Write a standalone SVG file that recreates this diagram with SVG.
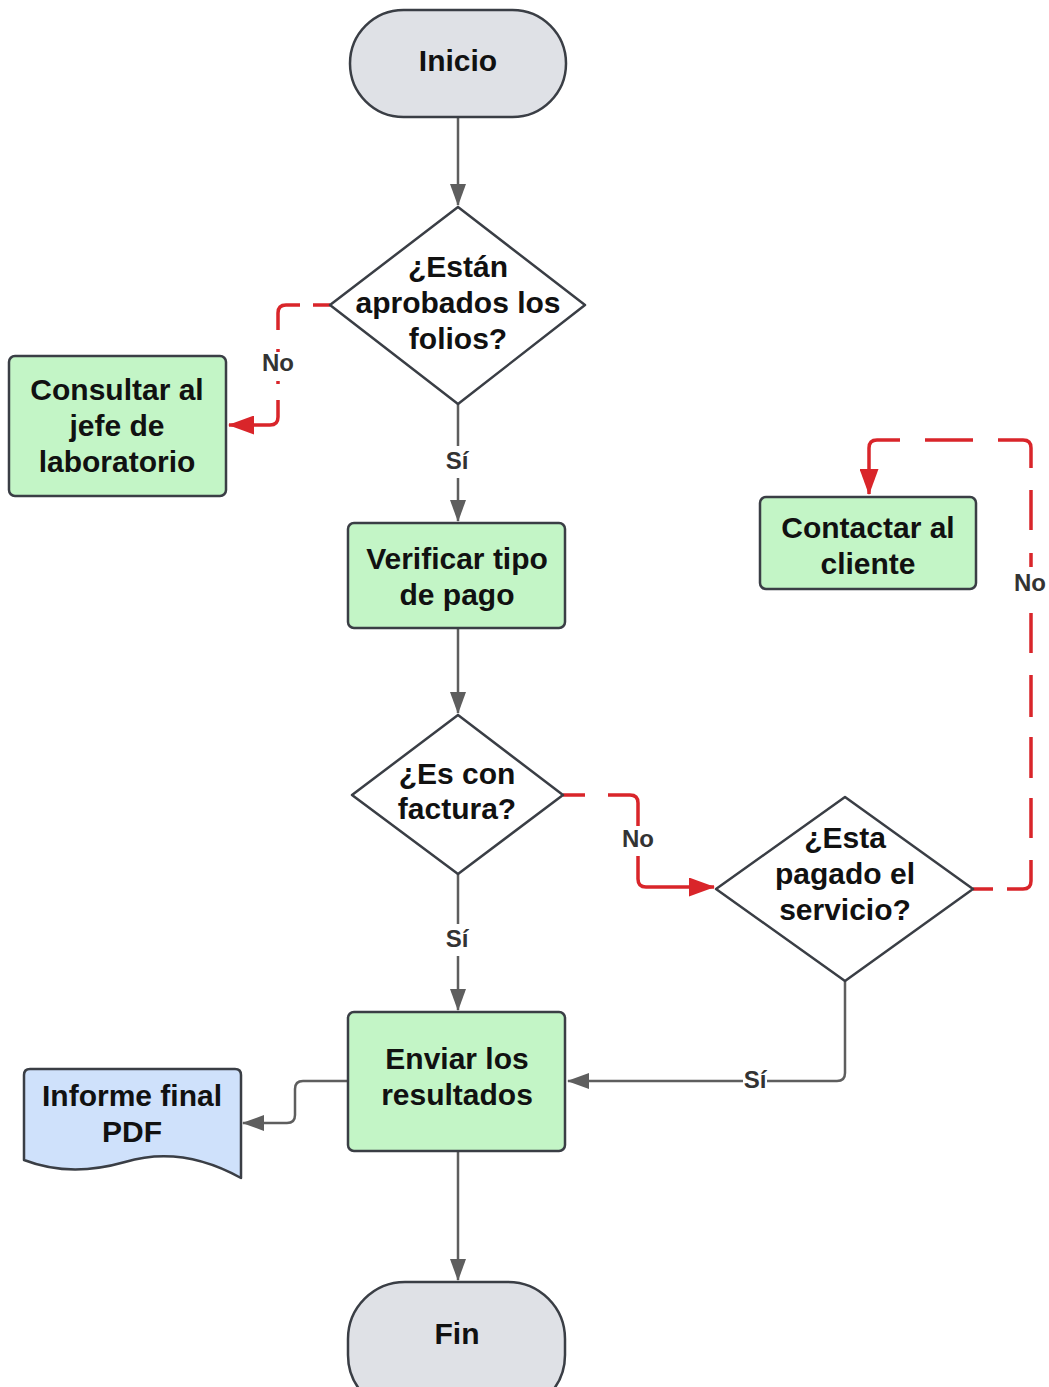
<svg xmlns="http://www.w3.org/2000/svg" width="1049" height="1387" viewBox="0 0 1049 1387">
  <style>
    .node { stroke: #3a3e45; stroke-width: 2.5; }
    .term { fill: #dfe1e6; }
    .proc { fill: #c3f5c6; }
    .doc { fill: #cfe1fb; }
    .dec { fill: #ffffff; }
    .lbl { font-family: "Liberation Sans", Arial, sans-serif; font-weight: bold; font-size: 30px; fill: #111; text-anchor: middle; }
    .edge { fill: none; stroke: #5e5e5e; stroke-width: 2.5; }
    .no { fill: none; stroke: #d9252a; stroke-width: 3.5; }
    .tag { font-family: "Liberation Sans", Arial, sans-serif; font-weight: bold; font-size: 24px; fill: #333; text-anchor: middle; }
  </style>
  <defs>
    <marker id="ag" markerWidth="22" markerHeight="16" refX="21" refY="8" orient="auto" markerUnits="userSpaceOnUse" viewBox="0 0 22 16">
      <path d="M0,0 L22,8 L0,16 Z" fill="#5e5e5e"/>
    </marker>
    <marker id="ar" markerWidth="26" markerHeight="19" refX="25" refY="9.5" orient="auto" markerUnits="userSpaceOnUse" viewBox="0 0 26 19">
      <path d="M0,0 L26,9.5 L0,19 Z" fill="#d9252a"/>
    </marker>
  </defs>

  <rect width="1049" height="1387" fill="#ffffff"/>

  <g id="connectors">
    <!-- main flow -->
    <path class="edge" d="M458,117 V205" marker-end="url(#ag)"/>
    <path class="edge" d="M458,404 V446 M458,478 V521" marker-end="url(#ag)"/>
    <path class="edge" d="M458,628 V713" marker-end="url(#ag)"/>
    <path class="edge" d="M458,874 V924 M458,956 V1010" marker-end="url(#ag)"/>
    <path class="edge" d="M845,981 V1073 Q845,1081 837,1081 H767 M743,1081 H568" marker-end="url(#ag)"/>
    <path class="edge" d="M348,1081 H303 Q295,1081 295,1089 V1115 Q295,1123 287,1123 H243" marker-end="url(#ag)"/>
    <path class="edge" d="M458,1151 V1280" marker-end="url(#ag)"/>

    <!-- "No" branches, dashed by hand -->
    <path class="no" d="M330,305 H313 M300,305 H286 Q278,305 278,313 V330 M278,349 V352 M278,381 V384"/>
    <path class="no" d="M278,400 V417 Q278,425 270,425 H229" marker-end="url(#ar)"/>

    <path class="no" d="M563,795 H585 M608,795 H630 Q638,795 638,803 V826"/>
    <path class="no" d="M638,856 V879 Q638,887 646,887 H714" marker-end="url(#ar)"/>

    <path class="no" d="M973,889 H993 M1007,889 H1023 Q1031,889 1031,881 V860 M1031,838 V798 M1031,778 V737 M1031,717 V675 M1031,653 V613 M1031,567 V553 M1031,530 V490 M1031,468 V448 Q1031,440 1023,440 H998 M973,440 H925"/>
    <path class="no" d="M900,440 H877 Q869,440 869,448 V494" marker-end="url(#ar)"/>

    <text class="tag" x="278" y="371">No</text>
    <text class="tag" x="638" y="847">No</text>
    <text class="tag" x="1030" y="591">No</text>
    <text class="tag" x="457" y="469">Sí</text>
    <text class="tag" x="457" y="947">Sí</text>
    <text class="tag" x="755" y="1088">Sí</text>
  </g>

  <g id="inicio">
    <rect class="node term" x="350" y="10" width="216" height="107" rx="53.5"/>
    <text class="lbl" x="458" y="71">Inicio</text>
  </g>

  <g id="aprobados">
    <path class="node dec" d="M458,207 L585,305 L458,404 L330,305 Z" stroke-linejoin="round"/>
    <text class="lbl" x="458" y="277">¿Están</text>
    <text class="lbl" x="458" y="313">aprobados los</text>
    <text class="lbl" x="458" y="349">folios?</text>
  </g>

  <g id="consultar">
    <rect class="node proc" x="9" y="356" width="217" height="140" rx="6"/>
    <text class="lbl" x="117" y="400">Consultar al</text>
    <text class="lbl" x="117" y="436">jefe de</text>
    <text class="lbl" x="117" y="472">laboratorio</text>
  </g>

  <g id="verificar">
    <rect class="node proc" x="348" y="523" width="217" height="105" rx="6"/>
    <text class="lbl" x="457" y="569">Verificar tipo</text>
    <text class="lbl" x="457" y="605">de pago</text>
  </g>

  <g id="factura">
    <path class="node dec" d="M458,715 L563,795 L458,874 L352,795 Z" stroke-linejoin="round"/>
    <text class="lbl" x="457" y="784">¿Es con</text>
    <text class="lbl" x="457" y="819">factura?</text>
  </g>

  <g id="pagado">
    <path class="node dec" d="M845,797 L973,889 L845,981 L716,889 Z" stroke-linejoin="round"/>
    <text class="lbl" x="845" y="848">¿Esta</text>
    <text class="lbl" x="845" y="884">pagado el</text>
    <text class="lbl" x="845" y="920">servicio?</text>
  </g>

  <g id="contactar">
    <rect class="node proc" x="760" y="497" width="216" height="92" rx="6"/>
    <text class="lbl" x="868" y="538">Contactar al</text>
    <text class="lbl" x="868" y="574">cliente</text>
  </g>

  <g id="enviar">
    <rect class="node proc" x="348" y="1012" width="217" height="139" rx="6"/>
    <text class="lbl" x="457" y="1069">Enviar los</text>
    <text class="lbl" x="457" y="1105">resultados</text>
  </g>

  <g id="informe">
    <path class="node doc" d="M30,1069 H235 Q241,1069 241,1075 V1178 C205,1158 165,1150 125,1162 C90,1172 55,1172 24,1160 V1075 Q24,1069 30,1069 Z" stroke-linejoin="round"/>
    <text class="lbl" x="132" y="1106">Informe final</text>
    <text class="lbl" x="132" y="1142">PDF</text>
  </g>

  <g id="fin">
    <rect class="node term" x="348" y="1282" width="217" height="130" rx="57"/>
    <text class="lbl" x="457" y="1344">Fin</text>
  </g>
</svg>
